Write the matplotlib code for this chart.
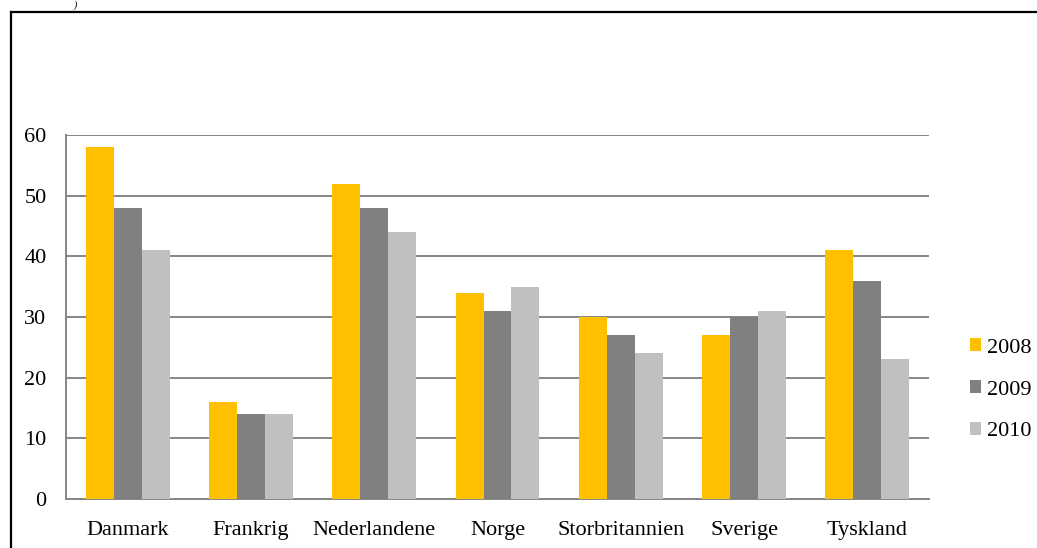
import matplotlib
matplotlib.use("Agg")
import matplotlib.pyplot as plt
import numpy as np
from matplotlib.patches import Patch
from matplotlib.lines import Line2D

categories = ["Danmark", "Frankrig", "Nederlandene", "Norge", "Storbritannien", "Sverige", "Tyskland"]
series_names = ["2008", "2009", "2010"]
v2008 = [58, 16, 52, 34, 30, 27, 41]
v2009 = [48, 14, 48, 31, 27, 30, 36]
v2010 = [41, 14, 44, 35, 24, 31, 23]
yticks = [0, 10, 20, 30, 40, 50, 60]

colors = ["#FFC000", "#808080", "#C0C0C0"]
plt.rcParams['font.family'] = ['Liberation Serif', 'DejaVu Serif']
FS = 16

W, H = 1037, 548
fig = plt.figure(figsize=(W/100, H/100), dpi=100)
ax = fig.add_axes([66/W, 1-499/H, (929-66)/W, (499-135)/H])

x = np.arange(len(categories))
bw = 0.227
for i, (vals, c) in enumerate(zip([v2008, v2009, v2010], colors)):
    ax.bar(x + (i-1)*bw, vals, width=bw, color=c, zorder=3, label=series_names[i])

ax.set_xlim(-0.5, len(categories)-0.5)
ax.set_ylim(0, 60)
ax.set_yticks(yticks)
ax.set_xticks(x)
ax.set_xticklabels(categories)
ax.tick_params(axis='both', length=0, labelsize=FS)
ax.tick_params(axis='y', pad=14)
ax.tick_params(axis='x', pad=16)
ax.grid(axis='y', color='#868686', linewidth=1.4, zorder=0)
for s in ['top', 'right']:
    ax.spines[s].set_visible(False)
for s in ['left', 'bottom']:
    ax.spines[s].set_color('#868686')
    ax.spines[s].set_linewidth(1.4)

handles = [Patch(facecolor=c, edgecolor='none') for c in colors]
leg = fig.legend(handles, series_names, loc='center left',
                 bbox_to_anchor=(970/W, 1-390/H), frameon=False, fontsize=FS,
                 handlelength=0.5, handleheight=0.5, handletextpad=0.25,
                 labelspacing=1.02, borderaxespad=0, borderpad=0)

# outer frame
fig.add_artist(Line2D([11/W, 1], [1-12/H, 1-12/H], transform=fig.transFigure, color='black', linewidth=1.6))
fig.add_artist(Line2D([11/W, 11/W], [0, 1-12/H], transform=fig.transFigure, color='black', linewidth=1.6))
fig.text(75/W, 1.0, ")", fontsize=7, style='italic', ha='center', va='top')

fig.savefig("out.png", dpi=100, facecolor='white')
